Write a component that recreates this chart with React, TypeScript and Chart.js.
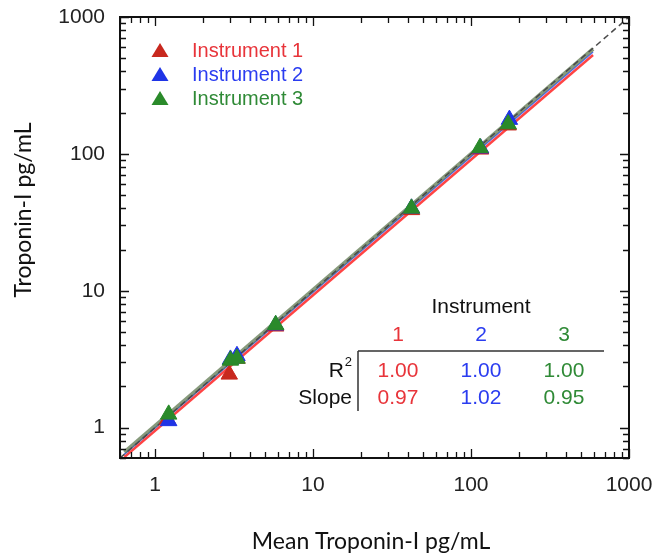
import React, { useEffect, useRef } from "react";
import { Chart, registerables } from "chart.js";
Chart.register(...registerables);

// ---- data ----
const seriesNames = ["Instrument 1", "Instrument 2", "Instrument 3"];
const inst1X = [1.2, 2.95, 3.3, 5.8, 42, 115, 172];
const inst1Y = [1.15, 2.45, 3.2, 5.5, 39, 108, 162];
const inst2X = [1.22, 3.0, 3.3, 5.8, 42, 115, 175];
const inst2Y = [1.12, 3.15, 3.35, 5.6, 40, 110, 178];
const inst3X = [1.22, 3.0, 3.3, 5.8, 42, 114, 172];
const inst3Y = [1.25, 3.1, 3.2, 5.65, 40, 111, 165];
const fitX = [0.64, 592];
const fit1Y = [0.61, 528];
const fit2Y = [0.64, 555];
const fit3Y = [0.66, 583];
const identityXY = [0.6, 1000];
const axisTicks = [1, 10, 100, 1000];
const tableHeader = "Instrument";
const tableCols = ["1", "2", "3"];
const r2Values = ["1.00", "1.00", "1.00"];
const slopeValues = ["0.97", "1.02", "0.95"];
const xTitle = "Mean Troponin-I pg/mL";
const yTitle = "Troponin-I pg/mL";

const markerColors = ["#c8281e", "#1f34e6", "#2a8a2a"];
const textColors = ["#e8343a", "#2a3cf0", "#2f8a36"];
const lineColors = ["#ff4444", "#4868ff", "rgba(95,120,80,0.75)"];

const pts = (xs: number[], ys: number[]) => xs.map((x, i) => ({ x, y: ys[i] }));

function minorValues(min: number, max: number) {
  const out: { v: number; major: boolean }[] = [];
  for (let e = -1; e <= 3; e++) {
    for (let m = 1; m <= 9; m++) {
      const v = m * Math.pow(10, e);
      if (v >= min - 1e-9 && v <= max + 1e-9) out.push({ v, major: m === 1 });
    }
  }
  return out;
}

const overlayPlugin = {
  id: "overlay",
  afterDraw(chart: any) {
    const { ctx, chartArea: a, scales } = chart;
    const xs = scales.x;
    const ys = scales.y;
    ctx.save();
    // inward ticks
    ctx.strokeStyle = "#111";
    ctx.lineWidth = 1.3;
    const majL = 9;
    const minL = 6;
    for (const t of minorValues(0.6, 1000)) {
      const px = Math.round(xs.getPixelForValue(t.v)) + 0.5;
      const L = t.major ? majL : minL;
      ctx.beginPath();
      ctx.moveTo(px, a.bottom);
      ctx.lineTo(px, a.bottom - L);
      ctx.moveTo(px, a.top);
      ctx.lineTo(px, a.top + L);
      ctx.stroke();
      const py = Math.round(ys.getPixelForValue(t.v)) + 0.5;
      ctx.beginPath();
      ctx.moveTo(a.left, py);
      ctx.lineTo(a.left + L, py);
      ctx.moveTo(a.right, py);
      ctx.lineTo(a.right - L, py);
      ctx.stroke();
    }
    // frame
    ctx.lineWidth = 2;
    ctx.strokeStyle = "#111";
    ctx.strokeRect(a.left, a.top, a.right - a.left, a.bottom - a.top);

    // legend
    const legX = 160;
    const legTextX = 192;
    const legY = [51, 75, 99];
    ctx.font = "20px 'Liberation Sans', Arial, sans-serif";
    ctx.textBaseline = "middle";
    ctx.textAlign = "left";
    seriesNames.forEach((name, i) => {
      const y = legY[i];
      ctx.fillStyle = markerColors[i];
      ctx.beginPath();
      ctx.moveTo(legX, y - 8);
      ctx.lineTo(legX + 8.5, y + 6);
      ctx.lineTo(legX - 8.5, y + 6);
      ctx.closePath();
      ctx.fill();
      ctx.fillStyle = textColors[i];
      ctx.fillText(name, legTextX, y);
    });

    // table
    ctx.font = "21px 'Liberation Sans', Arial, sans-serif";
    ctx.textAlign = "center";
    ctx.fillStyle = "#111";
    ctx.fillText(tableHeader, 481, 307);
    const colX = [398, 481, 564];
    tableCols.forEach((c, i) => {
      ctx.fillStyle = textColors[i];
      ctx.fillText(c, colX[i], 335);
    });
    ctx.strokeStyle = "#333";
    ctx.lineWidth = 1.5;
    ctx.beginPath();
    ctx.moveTo(358, 351);
    ctx.lineTo(604, 351);
    ctx.moveTo(358, 351);
    ctx.lineTo(358, 411);
    ctx.stroke();
    ctx.textAlign = "right";
    ctx.fillStyle = "#111";
    ctx.fillText("R", 344, 371);
    ctx.font = "13px 'Liberation Sans', Arial, sans-serif";
    ctx.fillText("2", 352, 362);
    ctx.font = "21px 'Liberation Sans', Arial, sans-serif";
    ctx.fillText("Slope", 352, 398);
    ctx.textAlign = "center";
    r2Values.forEach((v, i) => {
      ctx.fillStyle = textColors[i];
      ctx.fillText(v, colX[i], 371);
    });
    slopeValues.forEach((v, i) => {
      ctx.fillStyle = textColors[i];
      ctx.fillText(v, colX[i], 398);
    });

    // axis titles
    ctx.fillStyle = "#111";
    ctx.font = "23px Lato, 'Open Sans', sans-serif";
    ctx.textAlign = "center";
    ctx.textBaseline = "middle";
    ctx.fillText(xTitle, 371, 542);
    ctx.translate(24, 210);
    ctx.rotate(-Math.PI / 2);
    ctx.fillText(yTitle, 0, 0);
    ctx.restore();
  },
};

export default function App() {
  const ref = useRef<HTMLCanvasElement | null>(null);
  useEffect(() => {
    if (!ref.current) return;
    const lineDs = (label: string, ys: number[], color: string, width: number, order: number) => ({
      type: "scatter" as const,
      label,
      data: pts(fitX, ys),
      showLine: true,
      borderColor: color,
      borderWidth: width,
      pointRadius: 0,
      order,
    });
    const pointDs = (i: number, xs: number[], ys: number[], order: number) => ({
      type: "scatter" as const,
      label: seriesNames[i],
      data: pts(xs, ys),
      pointStyle: "triangle",
      pointRadius: 9.5,
      backgroundColor: markerColors[i],
      borderColor: markerColors[i],
      borderWidth: 1,
      order,
    });
    const chart = new Chart(ref.current, {
      type: "scatter",
      data: {
        datasets: [
          pointDs(2, inst3X, inst3Y, 1),
          pointDs(1, inst2X, inst2Y, 2),
          pointDs(0, inst1X, inst1Y, 3),
          {
            type: "scatter",
            label: "identity",
            data: pts(identityXY, identityXY),
            showLine: true,
            borderColor: "#4a4a4a",
            borderWidth: 1.5,
            borderDash: [6, 4],
            pointRadius: 0,
            order: 5,
          },
          lineDs("fit3", fit3Y, lineColors[2], 4, 6),
          lineDs("fit2", fit2Y, lineColors[1], 1.5, 7),
          lineDs("fit1", fit1Y, lineColors[0], 2.5, 8),
        ],
      },
      options: {
        responsive: false,
        animation: false,
        layout: { autoPadding: false, padding: { left: 0, top: 17, right: 37, bottom: 0 } },
        plugins: { legend: { display: false }, tooltip: { enabled: false } },
        scales: {
          x: {
            type: "logarithmic",
            min: 0.6,
            max: 1000,
            grid: { display: false, drawTicks: false },
            border: { display: false },
            afterBuildTicks: (s: any) => {
              s.ticks = axisTicks.map((v) => ({ value: v }));
            },
            afterFit: (s: any) => {
              s.height = 99;
              s.paddingLeft = 0;
              s.paddingRight = 0;
            },
            ticks: {
              autoSkip: false,
              maxRotation: 0,
              padding: 15,
              color: "#222",
              font: { family: "'Liberation Sans', Arial, sans-serif", size: 21 },
              callback: (v: any) => String(v),
            },
          },
          y: {
            type: "logarithmic",
            min: 0.6,
            max: 1000,
            grid: { display: false, drawTicks: false },
            border: { display: false },
            afterBuildTicks: (s: any) => {
              s.ticks = axisTicks.map((v) => ({ value: v }));
            },
            afterFit: (s: any) => {
              s.width = 120;
              s.paddingTop = 0;
              s.paddingBottom = 0;
            },
            ticks: {
              autoSkip: false,
              padding: 15,
              color: "#222",
              font: { family: "'Liberation Sans', Arial, sans-serif", size: 21 },
              callback: (v: any) => String(v),
            },
          },
        },
      },
      plugins: [overlayPlugin],
    } as any);
    return () => chart.destroy();
  }, []);
  return (
    <div style={{ position: "absolute", left: 0, top: 0, width: 666, height: 557, background: "#fff" }}>
      <canvas ref={ref} width={666} height={557} style={{ display: "block" }} />
    </div>
  );
}
